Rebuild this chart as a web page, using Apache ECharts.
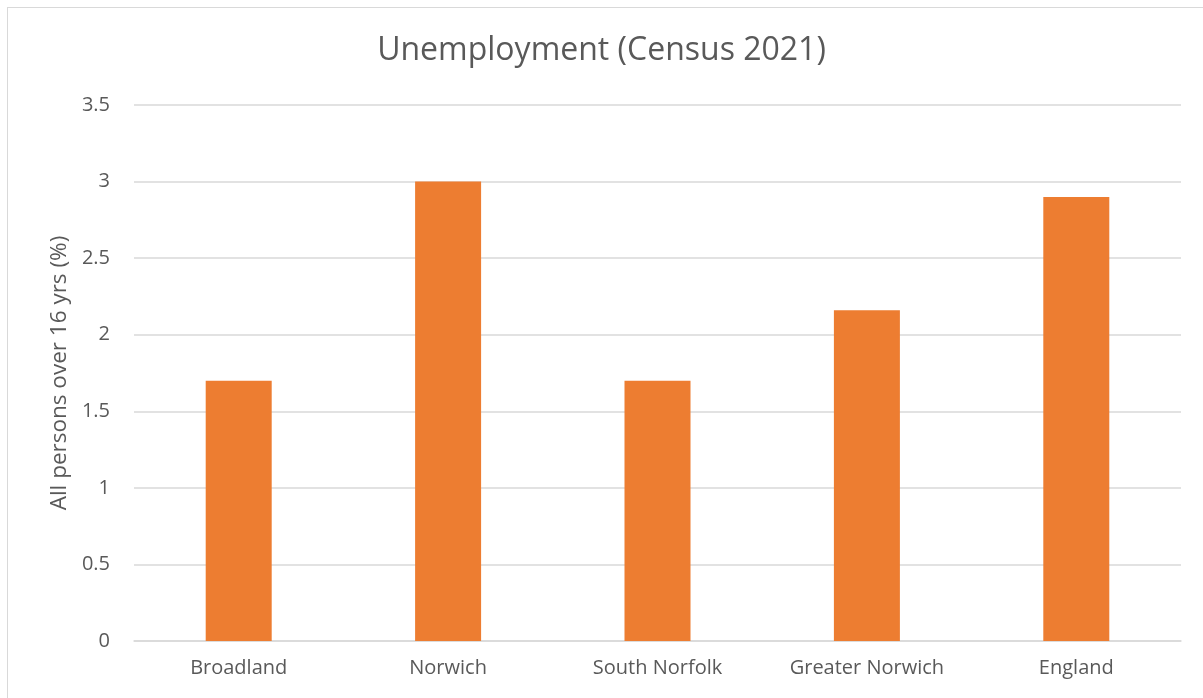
<!DOCTYPE html>
<html>
<head>
<meta charset="utf-8">
<script src="https://cdn.jsdelivr.net/npm/echarts@6/dist/echarts.min.js"></script>
<style>
    html, body { margin: 0; padding: 0; background: #fff; overflow: hidden; }
    #frame { position: absolute; left: 7px; top: 7px; width: 1210px; height: 710px; border: 1px solid #d9d9d9; }
    #chart { position: absolute; left: 0; top: 0; width: 1203px; height: 698px; }
</style>
</head>
<body>
<div id="frame"></div>
<div id="chart"></div>
<script>
    // data
    var areas = ['Broadland', 'Norwich', 'South Norfolk', 'Greater Norwich', 'England'];
    var unemployment = [1.7, 3.0, 1.7, 2.16, 2.9];

    var chart = echarts.init(document.getElementById('chart'));
    var option = {
        animation: false,
        textStyle: { fontFamily: 'Open Sans' },
        title: {
            text: 'Unemployment (Census 2021)',
            left: 'center',
            top: 30,
            textStyle: { color: '#595959', fontSize: 32, fontWeight: 'normal', fontFamily: 'Open Sans' }
        },
        grid: { left: 134, right: 22, top: 105, bottom: 57 },
        xAxis: {
            type: 'category',
            data: areas,
            axisTick: { show: false },
            axisLine: { lineStyle: { color: '#d9d9d9', width: 1.5 } },
            axisLabel: { color: '#595959', fontSize: 20, margin: 17 }
        },
        yAxis: {
            type: 'value',
            min: 0,
            max: 3.5,
            interval: 0.5,
            name: 'All persons over 16 yrs (%)',
            nameLocation: 'middle',
            nameGap: 61,
            nameTextStyle: { color: '#595959', fontSize: 22.5 },
            axisLine: { show: false },
            axisTick: { show: false },
            axisLabel: { color: '#595959', fontSize: 20, margin: 24 },
            splitLine: { lineStyle: { color: '#d9d9d9', width: 1.5 } }
        },
        series: [{
            type: 'bar',
            data: unemployment,
            barWidth: 66,
            itemStyle: { color: '#ed7d31' }
        }]
    };
    chart.setOption(option);
</script>
</body>
</html>
